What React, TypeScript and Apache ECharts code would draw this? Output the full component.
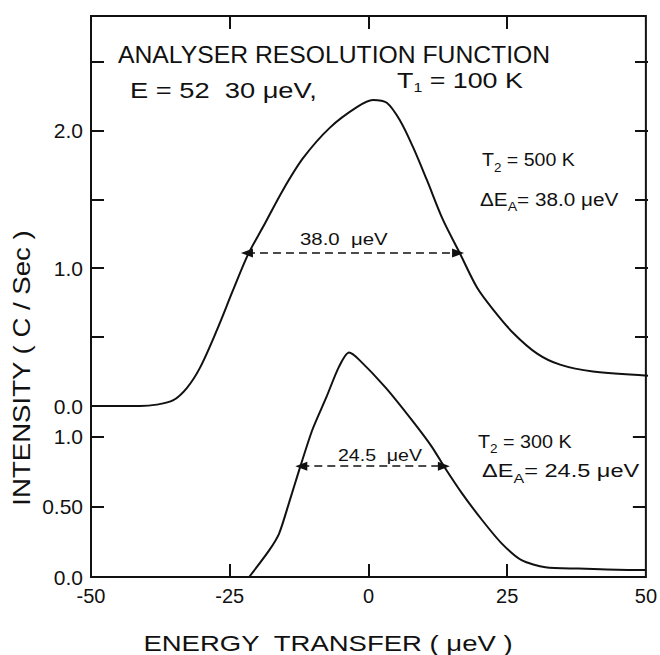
import React, { useEffect, useRef } from "react";
import * as echarts from "echarts";

// ---- data ----
const xTickValues = [-50, -25, 0, 25, 50];
const xInnerTicks = [-25, 0, 25];
const upperTickValues = [0, 0.5, 1.0, 1.5, 2.0, 2.5];
const upperRightTicks = [0.5, 1.0, 1.5, 2.0, 2.5];
const upperLabelValues = [0, 1.0, 2.0];
const lowerTickValues = [0, 0.5, 1.0];
const lowerRightTicks = [0.5, 1.0];
const lowerLabelValues = [0, 0.5, 1.0];
const lowerLabelText = ["0.0", "0.50", "1.0"];

// T2 = 500 K curve (upper panel)
const upperEnergy = [-50, -41.2, -38.2, -35.3, -32.8, -30.4, -27.4, -24.5, -21.8, -19.1, -15.5, -11.9, -7.1, -2.2, 0.6, 3.1, 5.5, 7.8, 10.3, 13.2, 16.2, 19.3, 22.2, 25.8, 30.1, 34.2, 40.1, 50];
const upperIntensity = [0, 0, 0.01, 0.04, 0.13, 0.28, 0.55, 0.84, 1.1, 1.3, 1.57, 1.8, 2.02, 2.17, 2.22, 2.2, 2.07, 1.88, 1.64, 1.35, 1.11, 0.86, 0.7, 0.53, 0.38, 0.3, 0.25, 0.22];

// T2 = 300 K curve (lower panel)
const lowerEnergy = [-21.5, -17.9, -16.1, -14.3, -12.5, -10.1, -7.6, -5.3, -3.5, -1.7, 3.1, 7.8, 11.4, 13.6, 16.8, 20.4, 24.0, 27.6, 31.9, 37.8, 46.8, 50];
const lowerIntensity = [0, 0.19, 0.31, 0.53, 0.76, 1.05, 1.28, 1.5, 1.6, 1.55, 1.35, 1.12, 0.93, 0.79, 0.6, 0.41, 0.24, 0.12, 0.07, 0.06, 0.05, 0.05];

// FWHM arrows
const upperHalf = { from: -22.0, to: 15.9, level: 1.11 };
const lowerHalf = { from: -12.1, to: 13.6, level: 0.79 };

const FONT = "Liberation Sans";
const INK = "#111";

function pairs(xs: number[], ys: number[]) {
  return xs.map((x, i) => [x, ys[i]]);
}

function txt(text: string, x: number, y: number, fontSize: number, scaleX = 1, extra: any = {}) {
  return {
    type: "text",
    x,
    y,
    scaleX,
    z: 100,
    style: {
      text,
      fill: INK,
      fontFamily: FONT,
      fontSize,
      textAlign: "left",
      textVerticalAlign: "middle",
      align: "left",
      verticalAlign: "middle",
      ...extra,
    },
  };
}

const subRich = {
  sub: { fontSize: 13, lineHeight: 14, padding: [16, 0, 0, 0], fontFamily: FONT, fill: INK, color: INK },
};

export default function App() {
  const ref = useRef<HTMLDivElement>(null);
  useEffect(() => {
    if (!ref.current) return;
    const chart = echarts.init(ref.current, null, { renderer: "svg" });
    const tickStyle = { color: INK, width: 2 };
    const noLine = { show: false, onZero: false };
    const arrowLine = (h: { from: number; to: number; level: number }) => ({
      silent: true,
      symbol: ["triangle", "triangle"],
      symbolSize: [9, 12],
      lineStyle: { color: INK, width: 1.5, type: [8, 5] },
      itemStyle: { color: INK },
      label: { show: false },
      emphasis: { disabled: true },
      data: [[{ coord: [h.from, h.level] }, { coord: [h.to, h.level] }]],
    });
    const option: any = {
      animation: false,
      backgroundColor: "#fff",
      grid: [
        { left: 91, right: 12, top: 16, height: 390 },
        { left: 91, right: 12, top: 16, height: 561, show: true, borderColor: INK, borderWidth: 2, backgroundColor: "transparent" },
      ],
      xAxis: [
        { type: "value", gridIndex: 0, min: -50, max: 50, show: false, axisLine: noLine },
        {
          type: "value", gridIndex: 1, min: -50, max: 50, interval: 25, position: "bottom",
          axisLine: noLine, splitLine: { show: false },
          axisTick: { inside: true, length: 13, lineStyle: tickStyle, customValues: xInnerTicks },
          axisLabel: { color: INK, fontSize: 20, fontFamily: FONT, margin: 9, customValues: xTickValues, formatter: (v: number) => String(v) },
        },
        {
          type: "value", gridIndex: 1, min: -50, max: 50, interval: 25, position: "top",
          axisLine: noLine, splitLine: { show: false },
          axisTick: { inside: true, length: 13, lineStyle: tickStyle, customValues: xInnerTicks },
          axisLabel: { show: false },
        },
      ],
      yAxis: [
        {
          type: "value", gridIndex: 0, min: 0, max: 2.83, position: "left",
          axisLine: noLine, splitLine: { show: false },
          axisTick: { inside: true, length: 13, lineStyle: tickStyle, customValues: upperTickValues },
          axisLabel: { color: INK, fontSize: 21, fontFamily: FONT, margin: 8, customValues: upperLabelValues, formatter: (v: number) => v.toFixed(1) },
        },
        {
          type: "value", gridIndex: 0, min: 0, max: 2.83, position: "right",
          axisLine: noLine, splitLine: { show: false },
          axisTick: { inside: true, length: 13, lineStyle: tickStyle, customValues: upperRightTicks },
          axisLabel: { show: false },
        },
        {
          type: "value", gridIndex: 1, min: 0, max: 4, position: "left",
          axisLine: noLine, splitLine: { show: false },
          axisTick: { inside: true, length: 13, lineStyle: tickStyle, customValues: lowerTickValues },
          axisLabel: {
            color: INK, fontSize: 21, fontFamily: FONT, margin: 8, customValues: lowerLabelValues,
            formatter: (v: number) => lowerLabelText[lowerLabelValues.indexOf(v)] ?? String(v),
          },
        },
        {
          type: "value", gridIndex: 1, min: 0, max: 4, position: "right",
          axisLine: noLine, splitLine: { show: false },
          axisTick: { inside: true, length: 13, lineStyle: tickStyle, customValues: lowerRightTicks },
          axisLabel: { show: false },
        },
      ],
      series: [
        {
          name: "T2 = 500 K", type: "line", xAxisIndex: 0, yAxisIndex: 0,
          data: pairs(upperEnergy, upperIntensity),
          smooth: 0.3, showSymbol: false, symbol: "none", clip: false,
          lineStyle: { color: INK, width: 2 },
          markLine: arrowLine(upperHalf),
        },
        {
          name: "T2 = 300 K", type: "line", xAxisIndex: 1, yAxisIndex: 2,
          data: pairs(lowerEnergy, lowerIntensity),
          smooth: 0.25, showSymbol: false, symbol: "none",
          lineStyle: { color: INK, width: 2 },
          markLine: arrowLine(lowerHalf),
        },
      ],
      graphic: [
        txt("ANALYSER RESOLUTION FUNCTION", 118, 55, 24, 1.03),
        txt("E = 52  30 μeV,", 130, 90, 22, 1.24),
        txt("T{sub|1} = 100 K", 397, 80, 22, 1.22, { rich: subRich }),
        txt("T{sub|2} = 500 K", 482, 160, 19, 1.03, { rich: subRich }),
        txt("ΔE{sub|A}= 38.0 μeV", 480, 199, 19, 1.09, { rich: subRich }),
        txt("38.0  μeV", 300, 239, 17, 1.2),
        txt("24.5  μeV", 338, 455, 17, 1.15),
        txt("T{sub|2} = 300 K", 478, 441, 19, 1.04, { rich: subRich }),
        txt("ΔE{sub|A}= 24.5 μeV", 482, 471, 19, 1.24, { rich: subRich }),
        {
          type: "text", x: 22, y: 368, rotation: Math.PI / 2, scaleX: 1.2, z: 100,
          style: { text: "INTENSITY ( C / Sec )", fill: INK, fontFamily: FONT, fontSize: 23, textAlign: "center", textVerticalAlign: "middle", align: "center", verticalAlign: "middle" },
        },
        {
          type: "text", x: 328, y: 643, scaleX: 1.25, z: 100,
          style: { text: "ENERGY  TRANSFER ( μeV )", fill: INK, fontFamily: FONT, fontSize: 22, textAlign: "center", textVerticalAlign: "middle", align: "center", verticalAlign: "middle" },
        },
      ],
    };
    chart.setOption(option);
    return () => chart.dispose();
  }, []);
  return <div ref={ref} style={{ position: "fixed", left: 0, top: 0, width: 660, height: 655 }} />;
}
